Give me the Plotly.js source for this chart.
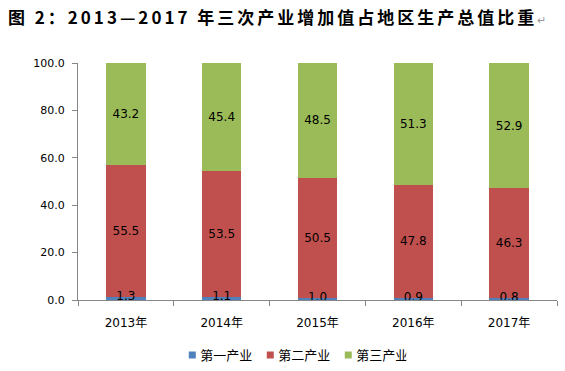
<!DOCTYPE html>
<html>
<head>
<meta charset="utf-8">
<script src="https://cdn.plot.ly/plotly-3.0.1.min.js"></script>
<style>html,body{margin:0;padding:0;background:#fff;}#chart{width:565px;height:371px;}</style>
</head>
<body>
<div id="chart"></div>
<script>
const categories = ['2013年', '2014年', '2015年', '2016年', '2017年'];
const seriesNames = ['第一产业', '第二产业', '第三产业'];
const primary = [1.3, 1.1, 1.0, 0.9, 0.8];
const secondary = [55.5, 53.5, 50.5, 47.8, 46.3];
const tertiary = [43.2, 45.4, 48.5, 51.3, 52.9];
const yTicks = [0, 20, 40, 60, 80, 100];
const colors = ['#4F81BD', '#C0504D', '#9BBB59'];
const seriesValues = [primary, secondary, tertiary];

const numFont = 'DejaVu Sans, Verdana, sans-serif';
const cjkFont = '"Noto Sans CJK SC", sans-serif';

const traces = seriesValues.map((vals, i) => ({
  type: 'bar',
  x: categories,
  y: vals,
  name: seriesNames[i],
  marker: {color: colors[i], line: {width: 0}},
  text: i === 0 ? null : vals.map(v => v.toFixed(1)),
  textposition: i === 0 ? 'none' : 'inside',
  insidetextanchor: 'middle',
  textangle: 0,
  constraintext: 'none',
  textfont: {family: numFont, size: 12, color: '#000'},
  hoverinfo: 'skip',
  showlegend: false
}));

// labels for the thin first-industry segment
traces.push({
  type: 'scatter', mode: 'text', x: categories, y: primary,
  text: primary.map(v => v.toFixed(1)),
  textposition: 'middle center',
  textfont: {family: numFont, size: 12, color: '#000'},
  hoverinfo: 'skip', showlegend: false, cliponaxis: false
});

// legend-only markers
seriesNames.forEach((n, i) => {
  traces.push({
    type: 'scatter', mode: 'markers', x: [null], y: [null], name: n,
    marker: {symbol: 'square', size: 7, color: colors[i]},
    hoverinfo: 'skip', showlegend: true
  });
});

const layout = {
  width: 565, height: 371,
  margin: {l: 78, r: 8, t: 63, b: 71},
  paper_bgcolor: '#fff', plot_bgcolor: '#fff',
  barmode: 'stack',
  bargap: 0.59,
  title: {
    text: '图 2：2013—2017 年三次产业增加值占地区生产总值比重<span style="font-size:11px;font-weight:normal;fill:#999">↵</span>',
    font: {family: '"Noto Sans CJK SC", serif', size: 17, color: '#000', weight: 700},
    x: 0.014, xanchor: 'left', xref: 'container', y: 0.952, yanchor: 'middle', yref: 'container',
    automargin: false
  },
  xaxis: {
    type: 'category', automargin: false,
    showline: true, linecolor: '#868686', linewidth: 1,
    ticks: 'outside', tickson: 'boundaries', ticklen: 5, tickcolor: '#868686',
    tickfont: {family: numFont + ',' + cjkFont, size: 12, color: '#000'},
    ticklabelstandoff: 12,
    showgrid: false, zeroline: false, fixedrange: true
  },
  yaxis: {
    range: [0, 100], automargin: false,
    tickvals: yTicks,
    ticktext: yTicks.map(v => v.toFixed(1)),
    showline: true, linecolor: '#868686', linewidth: 1,
    ticks: 'outside', ticklen: 5, tickcolor: '#868686',
    tickfont: {family: numFont, size: 11, color: '#000'},
    ticklabelstandoff: 5,
    showgrid: false, zeroline: false, fixedrange: true
  },
  legend: {
    orientation: 'h', x: 0.512, xanchor: 'center', xref: 'container',
    y: 0.043, yanchor: 'middle', yref: 'container',
    traceorder: 'normal',
    font: {family: cjkFont, size: 13, color: '#000'},
    itemwidth: 30, entrywidth: 33, bgcolor: 'rgba(0,0,0,0)'
  },
  showlegend: true
};

Plotly.newPlot('chart', traces, layout, {staticPlot: true, displayModeBar: false}).then(() => {
  const t = document.querySelector('.gtitle');
  if (t) t.style.letterSpacing = '3px';
  document.querySelectorAll('.legend .legendtext').forEach(el => el.setAttribute('x', 28));
});
</script>
</body>
</html>
